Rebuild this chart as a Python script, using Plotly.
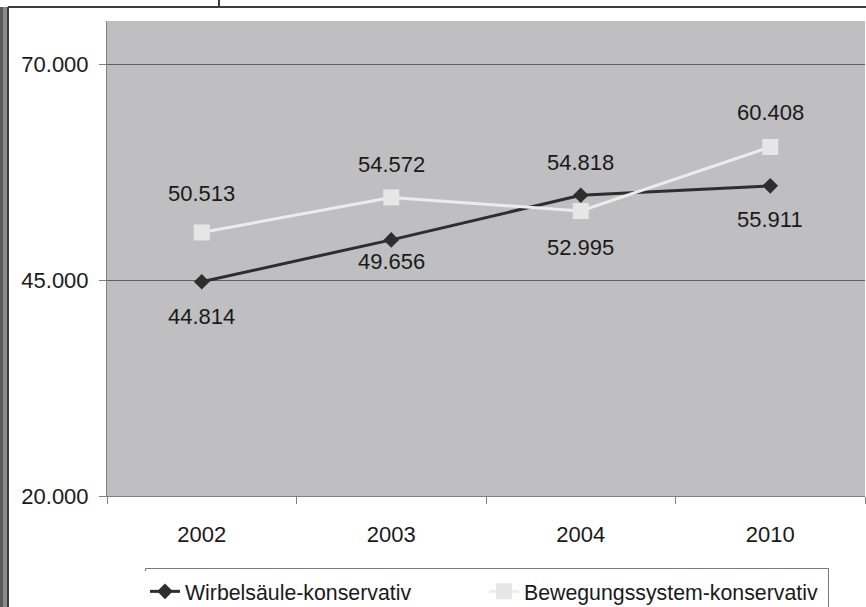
import plotly.graph_objects as go

# Chart data
years = ["2002", "2003", "2004", "2010"]
wirbelsaeule = [44814, 49656, 54818, 55911]
bewegungssystem = [50513, 54572, 52995, 60408]
series_names = ["Wirbelsäule-konservativ", "Bewegungssystem-konservativ"]
y_ticks = [20000, 45000, 70000]

# Label offsets (px) above (-) / below (+) each point
off_wirbel = [35, 22, -33, 34]
off_beweg = [-39, -33, 36, -35]

W, H = 866, 607
ML, MR, MT, MB = 107, 1, 21, 111
PW, PH = W - ML - MR, H - MT - MB


def px(x):
    return (x - ML) / PW


def py(y):
    return (H - MB - y) / PH


FONT = "Liberation Sans, Arial, sans-serif"
TXT = "#1a1a1a"

fig = go.Figure()
fig.add_trace(go.Scatter(
    x=years, y=wirbelsaeule, name=series_names[0], mode="lines+markers",
    line=dict(color="#2e2e2e", width=3),
    marker=dict(symbol="diamond", size=12, color="#2e2e2e"),
))
fig.add_trace(go.Scatter(
    x=years, y=bewegungssystem, name=series_names[1], mode="lines+markers",
    line=dict(color="#ececec", width=3),
    marker=dict(symbol="square", size=16, color="#e6e6e6"),
))


def fmt(v):
    return f"{v:,}".replace(",", ".")


annotations = []
for vals, offs in ((wirbelsaeule, off_wirbel), (bewegungssystem, off_beweg)):
    for i, (v, o) in enumerate(zip(vals, offs)):
        # category axis: annotation x is the category index
        annotations.append(dict(
            x=i, y=v, xref="x", yref="y", text=fmt(v), showarrow=False,
            yshift=-o, font=dict(family=FONT, size=22, color=TXT),
        ))

shapes = [
    # left drop shadow of the chart frame
    dict(type="rect", xref="paper", yref="paper", x0=px(0), x1=px(3), y0=py(607), y1=py(7),
         fillcolor="#5a5a5a", line=dict(width=0), layer="above"),
    dict(type="rect", xref="paper", yref="paper", x0=px(3), x1=px(8), y0=py(607), y1=py(7),
         fillcolor="#8a8a8a", line=dict(width=0), layer="above"),
    # chart frame
    dict(type="line", xref="paper", yref="paper", x0=px(8), x1=px(866), y0=py(7), y1=py(7),
         line=dict(color="#3c3c3c", width=2)),
    dict(type="line", xref="paper", yref="paper", x0=px(8), x1=px(8), y0=py(7), y1=py(607),
         line=dict(color="#3c3c3c", width=2)),
    dict(type="line", xref="paper", yref="paper", x0=px(219), x1=px(219), y0=py(0), y1=py(7),
         line=dict(color="#3c3c3c", width=2)),
    # legend box outline
    dict(type="rect", xref="paper", yref="paper", x0=px(145.5), x1=px(828.5), y0=py(568.5), y1=py(612),
         line=dict(color="#7a7a7a", width=1), fillcolor="rgba(0,0,0,0)", layer="above"),
]

fig.update_layout(
    width=W, height=H,
    margin=dict(l=ML, r=MR, t=MT, b=MB, autoexpand=False),
    paper_bgcolor="white",
    plot_bgcolor="#bfbfc1",
    separators=",.",
    font=dict(family=FONT, size=22, color=TXT),
    showlegend=True,
    legend=dict(
        orientation="h", x=px(145), y=py(571), xanchor="left", yanchor="top",
        bgcolor="white", borderwidth=0,
        font=dict(family=FONT, size=21.3, color=TXT),
        entrywidth=294, entrywidthmode="pixels",
        itemclick=False,
    ),
    annotations=annotations,
    shapes=shapes,
    xaxis=dict(
        type="category", categoryorder="array", categoryarray=years,
        range=[-0.5, len(years) - 0.5], autorange=False,
        showgrid=False, showline=True, linecolor="#808080", linewidth=1,
        ticks="outside", tickson="boundaries", ticklen=7, tickcolor="#808080",
        ticklabelstandoff=19, zeroline=False, tickangle=0,
    ),
    yaxis=dict(
        range=[20000, 75000], tickvals=y_ticks, tickformat=",d",
        showgrid=True, gridcolor="#5e5e5e", gridwidth=1,
        showline=True, linecolor="#808080", linewidth=1,
        ticks="outside", ticklen=7, tickcolor="#808080",
        ticklabelstandoff=6, zeroline=False,
    ),
)

fig.write_html("out.html")
